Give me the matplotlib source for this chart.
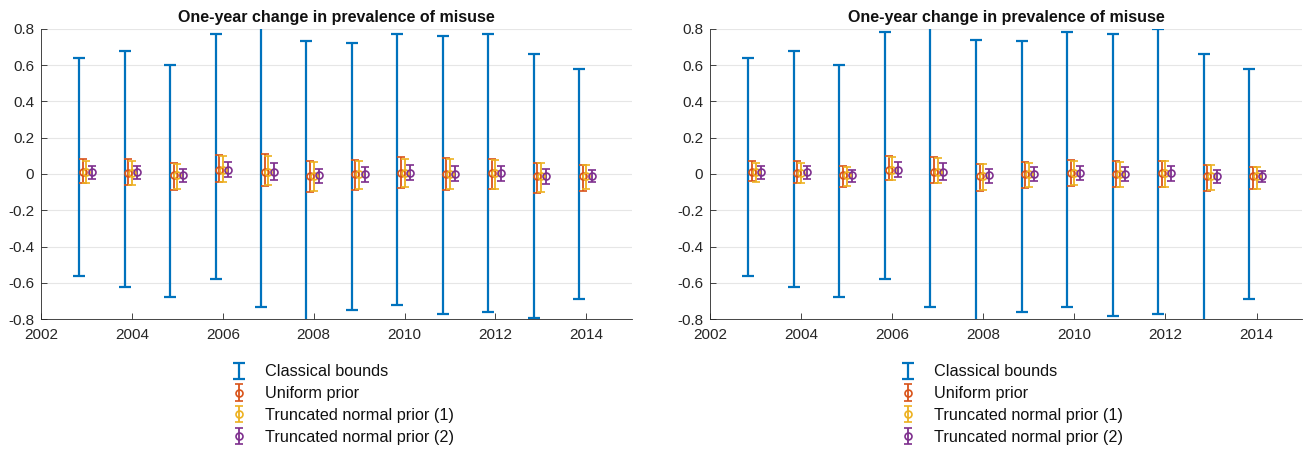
import numpy as np
import matplotlib.pyplot as plt

plt.rcParams['font.family'] = ['Liberation Sans', 'DejaVu Sans']

years = np.arange(2003, 2015)
yticks = [-0.8, -0.6, -0.4, -0.2, 0, 0.2, 0.4, 0.6, 0.8]
ytick_labels = ['-0.8', '-0.6', '-0.4', '-0.2', '0', '0.2', '0.4', '0.6', '0.8']

# classical (worst-case) bounds, both panels
cls_hi_a = [0.64, 0.68, 0.60, 0.77, 0.85, 0.73, 0.72, 0.77, 0.76, 0.77, 0.66, 0.58]
cls_lo_a = [-0.56, -0.62, -0.68, -0.58, -0.73, -0.85, -0.75, -0.72, -0.77, -0.76, -0.795, -0.69]
cls_hi_b = [0.64, 0.68, 0.60, 0.78, 0.85, 0.74, 0.73, 0.78, 0.77, 0.80, 0.66, 0.58]
cls_lo_b = [-0.56, -0.62, -0.68, -0.58, -0.73, -0.85, -0.76, -0.73, -0.78, -0.77, -0.85, -0.69]

# posterior estimates: centre, upper, lower
uni_mid_a = [0.009, 0.007, -0.007, 0.022, 0.013, -0.009, 0.000, 0.007, 0.002, 0.004, -0.013, -0.013]
uni_hi_a = [0.085, 0.081, 0.059, 0.106, 0.111, 0.070, 0.076, 0.093, 0.089, 0.085, 0.063, 0.048]
uni_lo_a = [-0.052, -0.061, -0.087, -0.046, -0.067, -0.100, -0.089, -0.076, -0.089, -0.085, -0.104, -0.093]
tn1_hi_a = [0.072, 0.072, 0.056, 0.100, 0.100, 0.067, 0.072, 0.085, 0.081, 0.076, 0.059, 0.048]
tn1_lo_a = [-0.052, -0.063, -0.083, -0.044, -0.063, -0.094, -0.085, -0.070, -0.081, -0.081, -0.098, -0.080]
tn2_mid_a = [0.011, 0.009, -0.007, 0.022, 0.013, -0.007, 0.000, 0.007, 0.002, 0.004, -0.011, -0.011]
tn2_hi_a = [0.046, 0.046, 0.026, 0.067, 0.059, 0.030, 0.039, 0.050, 0.043, 0.044, 0.028, 0.020]
tn2_lo_a = [-0.028, -0.030, -0.043, -0.017, -0.031, -0.048, -0.043, -0.033, -0.037, -0.041, -0.054, -0.043]

uni_mid_b = [0.009, 0.007, -0.007, 0.022, 0.013, -0.009, 0.000, 0.006, 0.002, 0.004, -0.013, -0.013]
uni_hi_b = [0.069, 0.069, 0.044, 0.098, 0.093, 0.057, 0.065, 0.076, 0.072, 0.074, 0.050, 0.037]
uni_lo_b = [-0.037, -0.052, -0.074, -0.033, -0.050, -0.093, -0.076, -0.065, -0.072, -0.070, -0.094, -0.083]
tn1_hi_b = [0.063, 0.063, 0.041, 0.093, 0.087, 0.054, 0.061, 0.072, 0.067, 0.070, 0.048, 0.037]
tn1_lo_b = [-0.043, -0.052, -0.067, -0.033, -0.052, -0.089, -0.070, -0.061, -0.069, -0.069, -0.089, -0.080]
tn2_mid_b = [0.011, 0.009, -0.007, 0.022, 0.013, -0.007, 0.000, 0.006, 0.002, 0.004, -0.013, -0.013]
tn2_hi_b = [0.044, 0.044, 0.022, 0.065, 0.059, 0.026, 0.037, 0.046, 0.039, 0.044, 0.022, 0.017]
tn2_lo_b = [-0.026, -0.030, -0.043, -0.019, -0.031, -0.050, -0.039, -0.031, -0.039, -0.041, -0.052, -0.043]

labels = ['Classical bounds', 'Uniform prior',
          'Truncated normal prior (1)', 'Truncated normal prior (2)']
colors = ['#0072BD', '#D95319', '#EDB120', '#7E2F8E']
offsets = [-0.16, -0.08, 0.0, 0.12]
txt = '#262626'


def bars(ax, x, mid, hi, lo, color, label, cap=3):
    mid = np.asarray(mid)
    err = [mid - np.asarray(lo), np.asarray(hi) - mid]
    ax.errorbar(x, mid, yerr=err, fmt='o', color=color, ecolor=color,
                mfc='none', mec=color, ms=5, mew=1.2, elinewidth=1.3,
                capsize=cap, capthick=1.3, label=label)


def panel(ax, cls_hi, cls_lo, uni, tn1, tn2):
    ch, cl = np.asarray(cls_hi), np.asarray(cls_lo)
    c = (ch + cl) / 2
    ax.errorbar(years + offsets[0], c, yerr=[c - cl, ch - c], fmt='none',
                ecolor=colors[0], elinewidth=1.6, capsize=4, capthick=1.6,
                label=labels[0])
    bars(ax, years + offsets[1], *uni, colors[1], labels[1])
    bars(ax, years + offsets[2], uni[0], tn1[0], tn1[1], colors[2], labels[2])
    bars(ax, years + offsets[3], *tn2, colors[3], labels[3])

    ax.set_xlim(2002, 2015)
    ax.set_ylim(-0.8, 0.8)
    ax.set_xticks(np.arange(2002, 2015, 2))
    ax.set_yticks(yticks)
    ax.set_yticklabels(ytick_labels)
    ax.yaxis.grid(True, color='#e6e6e6', lw=0.8)
    ax.set_axisbelow(True)
    for s in ['top', 'right']:
        ax.spines[s].set_visible(False)
    for s in ['left', 'bottom']:
        ax.spines[s].set_color(txt)
        ax.spines[s].set_linewidth(0.6)
    ax.tick_params(direction='in', length=4, width=0.6, colors=txt,
                   labelsize=11)
    ax.tick_params(axis='x', pad=6)
    ax.tick_params(axis='y', pad=5)
    ax.set_title('One-year change in prevalence of misuse',
                 fontsize=11.5, fontweight='bold', color='#111111', pad=5)
    ax.legend(loc='upper center', bbox_to_anchor=(0.508, -0.105), frameon=False,
              fontsize=11.7, handlelength=1.2, handletextpad=1.0,
              labelspacing=0.42, labelcolor='#111111')


fig = plt.figure(figsize=(13.1, 4.49), dpi=100)
ax1 = fig.add_axes([0.0313, 0.289, 0.451, 0.647])
ax2 = fig.add_axes([0.542, 0.289, 0.452, 0.647])

panel(ax1, cls_hi_a, cls_lo_a,
      (uni_mid_a, uni_hi_a, uni_lo_a), (tn1_hi_a, tn1_lo_a),
      (tn2_mid_a, tn2_hi_a, tn2_lo_a))
panel(ax2, cls_hi_b, cls_lo_b,
      (uni_mid_b, uni_hi_b, uni_lo_b), (tn1_hi_b, tn1_lo_b),
      (tn2_mid_b, tn2_hi_b, tn2_lo_b))

fig.savefig('out.png', dpi=100)
